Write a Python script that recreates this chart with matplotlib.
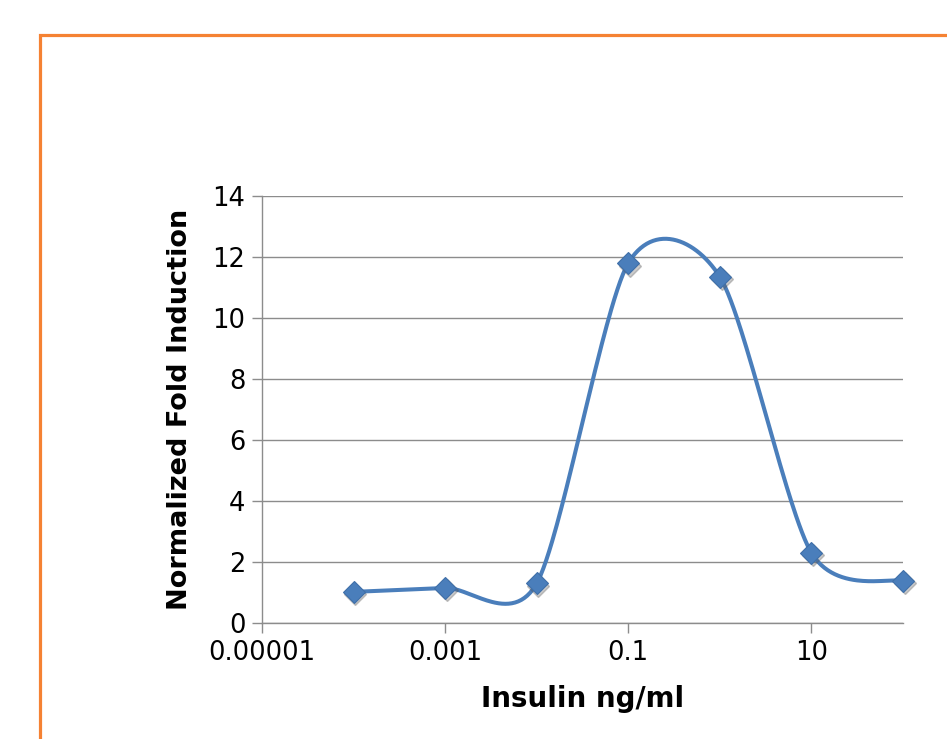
import numpy as np
import matplotlib
matplotlib.use("Agg")
import matplotlib.pyplot as plt
from matplotlib.patches import Rectangle

# data
insulin = [0.0001, 0.001, 0.01, 0.1, 1, 10, 100]
fold = [1.02, 1.15, 1.3, 11.8, 11.35, 2.3, 1.38]
xticks = [0.00001, 0.001, 0.1, 10]
xtick_labels = ["0.00001", "0.001", "0.1", "10"]
yticks = [0, 2, 4, 6, 8, 10, 12, 14]

blue = "#4A7EBB"
grid_col = "#8C8C8C"


def smooth(xs, ys, f=0.135, n=60):
    # excel-like smoothed line: bezier segments in (log x, y)
    px = np.log10(xs)
    py = np.array(ys, dtype=float)
    px = np.concatenate([[px[0]], px, [px[-1]]])
    py = np.concatenate([[py[0]], py, [py[-1]]])
    outx, outy = [], []
    t = np.linspace(0, 1, n)
    for i in range(1, len(px) - 2):
        p0 = np.array([px[i], py[i]])
        p3 = np.array([px[i + 1], py[i + 1]])
        c1 = p0 + (np.array([px[i + 1], py[i + 1]]) - np.array([px[i - 1], py[i - 1]])) * f
        c2 = p3 - (np.array([px[i + 2], py[i + 2]]) - np.array([px[i], py[i]])) * f
        b = ((1 - t) ** 3)[:, None] * p0 + (3 * (1 - t) ** 2 * t)[:, None] * c1 \
            + (3 * (1 - t) * t ** 2)[:, None] * c2 + (t ** 3)[:, None] * p3
        outx.extend(b[:, 0])
        outy.extend(b[:, 1])
    return 10 ** np.array(outx), np.array(outy)


fig = plt.figure(figsize=(9.47, 7.39), dpi=100)
fig.patches.append(Rectangle((40 / 947, -0.05), 1.0, 1.05 - 35 / 739,
                             transform=fig.transFigure, fill=False,
                             edgecolor="#F58233", linewidth=2.3, zorder=0))

ax = fig.add_axes([262 / 947, 1 - 623 / 739, (903 - 262) / 947, (623 - 196) / 739])
ax.set_xscale("log")
ax.set_xlim(1e-5, 100)
ax.set_ylim(0, 14)

sx, sy = smooth(insulin, fold)
ax.plot(sx, sy, color=blue, linewidth=2.9, solid_capstyle="round", zorder=3)
# marker shadow
ax.plot(insulin, fold, linestyle="none", marker="D", markersize=11.5,
        color="#555555", alpha=0.3, zorder=4, clip_on=False,
        transform=ax.transData + matplotlib.transforms.ScaledTranslation(1.2 / 72, -1.8 / 72, fig.dpi_scale_trans))
ax.plot(insulin, fold, linestyle="none", marker="D", markersize=11.5,
        color=blue, markeredgecolor="#3F6FA8", markeredgewidth=0.8, zorder=5, clip_on=False)

ax.set_yticks(yticks)
ax.set_xticks(xticks)
ax.set_xticklabels(xtick_labels)
ax.xaxis.set_minor_locator(matplotlib.ticker.NullLocator())
ax.grid(axis="y", color=grid_col, linewidth=1)
ax.set_axisbelow(True)
for s in ["top", "right"]:
    ax.spines[s].set_visible(False)
for s in ["left", "bottom"]:
    ax.spines[s].set_color(grid_col)
    ax.spines[s].set_linewidth(1)
ax.tick_params(axis="both", colors=grid_col, length=7, width=1, labelcolor="black",
               labelsize=18.5, pad=5)

ax.set_xlabel("Insulin ng/ml", fontsize=20, fontweight="bold", labelpad=14)
ax.set_ylabel("Normalized Fold Induction", fontsize=19.5, fontweight="bold", labelpad=14)

fig.savefig("out.png", dpi=100)
